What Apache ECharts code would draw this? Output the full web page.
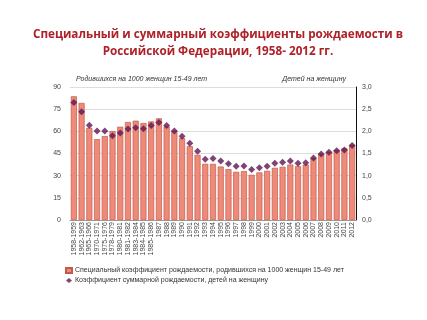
<!DOCTYPE html>
<html><head><meta charset="utf-8">
<script src="https://cdn.jsdelivr.net/npm/echarts@6/dist/echarts.min.js"></script>
<style>html,body{margin:0;padding:0;background:#fff}#c{width:427px;height:320px}</style>
</head><body><div id="c"></div>
<script>
const categories = ["1958-1959","1962-1963","1965-1966","1970-1971","1975-1976","1978-1979","1980-1981","1981-1982","1983-1984","1984-1985","1985-1986",
"1987","1988","1989","1990","1991","1992","1993","1994","1995","1996","1997","1998","1999","2000","2001","2002","2003","2004","2005","2006","2007","2008","2009","2010","2011","2012"];
const specialRate = [83.7,79.2,62.4,54.7,56.8,60.2,63.1,66.3,67.2,65.6,66.7,
68.8,63.3,60.4,55.4,50.0,44.1,38.0,38.0,36.2,34.4,32.6,33.1,30.6,32.2,33.3,35.3,36.0,37.5,36.4,37.5,41.8,44.7,46.2,47.4,48.5,50.9];
const totalFertility = [2.65,2.44,2.14,2.01,2.01,1.90,1.96,2.05,2.08,2.06,2.13,
2.20,2.13,2.01,1.89,1.73,1.55,1.37,1.39,1.33,1.27,1.21,1.22,1.14,1.18,1.21,1.28,1.30,1.33,1.28,1.29,1.40,1.49,1.53,1.56,1.58,1.68];
const leftTicks = {min:0,max:90,interval:15};
const rightTicks = {min:0,max:3,interval:0.5};

const chart = echarts.init(document.getElementById('c'));
chart.setOption({
  animation:false,
  backgroundColor:'#fff',
  title:{
    text:'Специальный и суммарный коэффициенты рождаемости в\nРоссийской Федерации, 1958- 2012 гг.',
    left:213, top:21, textAlign:'center',
    textStyle:{fontFamily:'Open Sans',fontWeight:'bold',fontSize:11.7,color:'#ad2128',lineHeight:17}
  },
  grid:{left:70,right:71,top:87,bottom:100},
  legend:{
    orient:'vertical', left:60, top:262, itemGap:3, itemWidth:6, itemHeight:5,
    textStyle:{fontSize:7,color:'#333',fontFamily:'Liberation Sans',padding:[0,0,0,-2]},
    data:[{name:'Специальный коэффициент рождаемости, родившихся на 1000 женщин 15-49 лет',icon:'rect'},
          {name:'Коэффициент суммарной рождаемости, детей на женщину',icon:'diamond'}]
  },
  xAxis:{
    type:'category', data:categories,
    axisTick:{show:false},
    axisLine:{lineStyle:{color:'#999'}},
    axisLabel:{rotate:90,interval:0,fontSize:7,color:'#444',margin:2,fontFamily:'Liberation Sans'}
  },
  yAxis:[
    {type:'value',min:leftTicks.min,max:leftTicks.max,interval:leftTicks.interval,
     name:'Родившихся на 1000 женщин 15-49 лет',nameGap:4,
     nameTextStyle:{align:'left',fontStyle:'italic',fontSize:7,color:'#333',padding:[0,0,0,6],fontFamily:'Liberation Sans'},
     axisLine:{show:false},axisTick:{show:false},
     axisLabel:{fontSize:7,color:'#444',margin:9,fontFamily:'Liberation Sans'},
     splitLine:{lineStyle:{color:'#ddd'}}},
    {type:'value',min:rightTicks.min,max:rightTicks.max,interval:rightTicks.interval,
     name:'Детей на женщину',nameGap:4,
     nameTextStyle:{align:'right',fontStyle:'italic',fontSize:7,color:'#333',padding:[0,10,0,0],fontFamily:'Liberation Sans'},
     axisLine:{show:true,lineStyle:{color:'#111',width:1}},axisTick:{show:false},
     axisLabel:{fontSize:7,color:'#444',margin:6,fontFamily:'Liberation Sans',
       formatter:v=>v.toFixed(1).replace('.',',')},
     splitLine:{show:false}}
  ],
  series:[
    {name:'Специальный коэффициент рождаемости, родившихся на 1000 женщин 15-49 лет',
     type:'bar',data:specialRate,yAxisIndex:0,barCategoryGap:'22%',
     itemStyle:{color:'#f08a78',borderColor:'#c05a4c',borderWidth:0.7}},
    {name:'Коэффициент суммарной рождаемости, детей на женщину',
     type:'scatter',data:totalFertility,yAxisIndex:1,symbol:'diamond',symbolSize:[7,7],
     itemStyle:{color:'#5e1552'},z:5}
  ]
});
</script></body></html>
